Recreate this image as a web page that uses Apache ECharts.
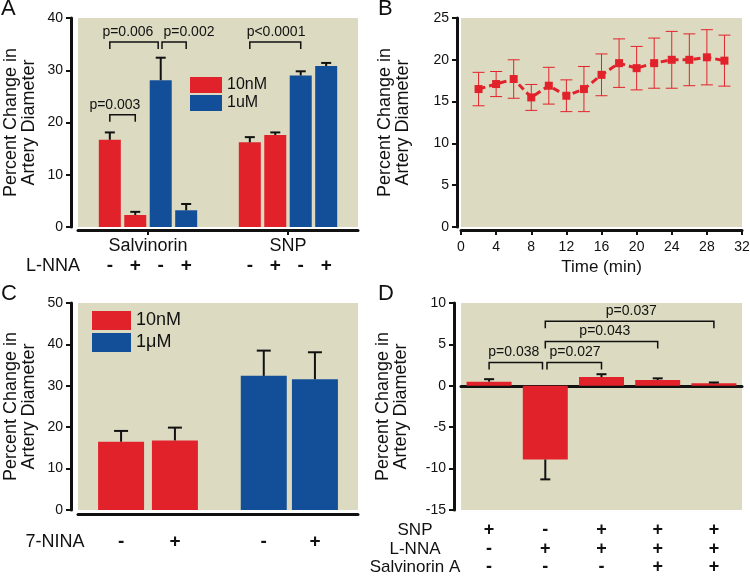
<!DOCTYPE html>
<html>
<head>
<meta charset="utf-8">
<script src="https://cdn.jsdelivr.net/npm/echarts@6/dist/echarts.min.js"></script>
<style>html,body{margin:0;background:#fff}#main{width:750px;height:577px}</style>
</head>
<body>
<div id="main"></div>
<script>
// A: bars at x positions, two groups
var aPos = [1, 2, 3, 4, 6.5, 7.5, 8.5, 9.5];
var aMean = [16.7, 2.3, 28.1, 3.2, 16.2, 17.6, 29.0, 30.8];
var aErr = [1.4, 0.6, 4.3, 1.2, 1.0, 0.5, 0.8, 0.6];
var aDose = ['10nM', '10nM', '1uM', '1uM', '10nM', '10nM', '1uM', '1uM'];
var aSigns = ['-', '+', '-', '+', '-', '+', '-', '+'];
var aGroups = ['Salvinorin', 'SNP'];
var aGroupPos = [2.5, 8];
// [from, to, y, labelX]
var aBrackets = [[1, 2, 21.5, 1.2], [1, 2.9, 35.4, 1.71], [3.05, 4, 35.4, 4.11], [6.5, 8.5, 35.4, 7.53]];
var aBracketText = ['p=0.003', 'p=0.006', 'p=0.002', 'p<0.0001'];

// B: time course
var bTime = [2, 4, 6, 8, 10, 12, 14, 16, 18, 20, 22, 24, 26, 28, 30];
var bMean = [16.5, 17.1, 17.7, 15.5, 16.9, 15.7, 16.5, 18.2, 19.6, 19.0, 19.6, 20.0, 20.0, 20.3, 19.9];
var bErr = [2.0, 1.5, 2.3, 1.55, 2.2, 1.9, 2.7, 2.5, 2.9, 2.6, 3.0, 3.4, 3.1, 3.3, 3.05];

// C
var cPos = [1, 2, 3.65, 4.6];
var cMean = [16.5, 16.8, 32.4, 31.6];
var cErr = [2.6, 3.1, 6.1, 6.5];
var cDose = ['10nM', '10nM', '1μM', '1μM'];
var cSigns = ['-', '+', '-', '+'];

// D
var dPos = [0, 1, 2, 3, 4];
var dMean = [0.5, -8.9, 1.05, 0.7, 0.3];
var dErr = [0.3, 2.4, 0.35, 0.2, 0.1];
var dSNP = ['+', '-', '+', '+', '+'];
var dLNNA = ['-', '+', '+', '+', '+'];
var dSalA = ['-', '-', '-', '+', '+'];
var dBrackets = [[0, 0.95, 2.8, 0.44], [1.03, 2, 2.8, 1.53], [1, 3, 5.36, 2.06], [1, 4, 7.8, 2.53]];
var dBracketText = ['p=0.038', 'p=0.027', 'p=0.043', 'p=0.037'];

var ff = 'Liberation Sans, Arial, Helvetica, sans-serif';
var ink = '#111';
var red = '#e2222b';
var blue = '#134e98';
var bg = '#dcdbc1';
var yTitle = 'Percent Change in\nArtery Diameter';

function pick(pos, vals, dose, want) {
  var out = [];
  for (var i = 0; i < pos.length; i++) {
    if (!dose || dose[i] === want) out.push([pos[i], vals[i]]);
  }
  return out;
}
function rows(pos, m, e) {
  return pos.map(function (p, i) { return [p, m[i], e[i]]; });
}

function yAx(grid, min, max, step, off, gap) {
  return {
    type: 'value', gridIndex: grid, min: min, max: max, interval: step, offset: off, position: 'left',
    axisLine: {show: true, onZero: false, lineStyle: {color: ink, width: 3}},
    axisTick: {show: true, length: 5, lineStyle: {color: ink, width: 2}},
    axisLabel: {fontSize: 14, color: ink, fontFamily: ff, margin: 8},
    splitLine: {show: false},
    name: yTitle, nameLocation: 'middle', nameRotate: 90, nameGap: gap,
    nameTextStyle: {fontSize: 18, lineHeight: 18, color: ink, fontFamily: ff}
  };
}

// row of +/- labels under the bars, with its row name on the left
function signAx(grid, min, max, pos, signs, off, name, gap, fs) {
  return {
    type: 'value', gridIndex: grid, min: min, max: max, position: 'bottom', offset: off,
    axisLine: {show: false, onZero: false}, axisTick: {show: false}, splitLine: {show: false},
    axisLabel: {
      customValues: pos, margin: 0, verticalAlign: 'middle', fontSize: fs + 1, fontWeight: 'bold',
      color: ink, fontFamily: ff,
      formatter: function (v) { return signs[pos.indexOf(v)]; }
    },
    name: name, nameLocation: 'start', nameGap: gap,
    nameTextStyle: {align: 'center', verticalAlign: 'middle', fontSize: fs, color: ink, fontFamily: ff}
  };
}

function errUp(cap, color, w) {
  return function (params, api) {
    var x = api.value(0), m = api.value(1), e = api.value(2);
    var p0 = api.coord([x, m]);
    var p1 = api.coord([x, m >= 0 ? m + e : m - e]);
    var st = {stroke: color, lineWidth: w};
    return {type: 'group', children: [
      {type: 'line', shape: {x1: p0[0], y1: p0[1], x2: p1[0], y2: p1[1]}, style: st},
      {type: 'line', shape: {x1: p1[0] - cap / 2, y1: p1[1], x2: p1[0] + cap / 2, y2: p1[1]}, style: st}
    ]};
  };
}

function errBoth(cap, color, w) {
  return function (params, api) {
    var x = api.value(0), m = api.value(1), e = api.value(2);
    var hi = api.coord([x, m + e]), lo = api.coord([x, m - e]);
    var st = {stroke: color, lineWidth: w};
    return {type: 'group', children: [
      {type: 'line', shape: {x1: hi[0], y1: hi[1], x2: lo[0], y2: lo[1]}, style: st},
      {type: 'line', shape: {x1: hi[0] - cap / 2, y1: hi[1], x2: hi[0] + cap / 2, y2: hi[1]}, style: st},
      {type: 'line', shape: {x1: lo[0] - cap / 2, y1: lo[1], x2: lo[0] + cap / 2, y2: lo[1]}, style: st}
    ]};
  };
}

function bracket(texts, tip) {
  return function (params, api) {
    var y = api.value(2);
    var a = api.coord([api.value(0), y]);
    var b = api.coord([api.value(1), y]);
    var t = api.coord([api.value(3), y]);
    return {type: 'group', children: [
      {type: 'polyline', shape: {points: [[a[0], a[1] + tip], [a[0], a[1]], [b[0], b[1]], [b[0], b[1] + tip]]},
        style: {stroke: ink, lineWidth: 1.5, fill: null}},
      {type: 'text', x: t[0], y: a[1] - 3,
        style: {text: texts[params.dataIndex], fontSize: 14, fontFamily: ff, fill: ink, align: 'center', verticalAlign: 'bottom'}}
    ]};
  };
}

var gridBase = {show: true, backgroundColor: bg, borderWidth: 0, containLabel: false, outerBoundsMode: 'none'};
function grid(l, t, w, h) {
  return Object.assign({left: l, top: t, width: w, height: h}, gridBase);
}

var titleStyle = {fontSize: 22, fontWeight: 'normal', color: ink, fontFamily: ff};

var myChart = echarts.init(document.getElementById('main'));
var option = {
  animation: false,
  title: [
    {text: 'A', left: 1, top: -2, padding: 0, textStyle: titleStyle},
    {text: 'B', left: 378, top: -2, padding: 0, textStyle: titleStyle},
    {text: 'C', left: 1, top: 283, padding: 0, textStyle: titleStyle},
    {text: 'D', left: 378, top: 283, padding: 0, textStyle: titleStyle}
  ],
  legend: [
    {left: 190, top: 77, orient: 'vertical', icon: 'rect', itemWidth: 32, itemHeight: 16, itemGap: 2, padding: 0,
      selectedMode: false, data: ['10nM', '1uM'], textStyle: {fontSize: 16, color: ink, fontFamily: ff}},
    {left: 92, top: 311, orient: 'vertical', icon: 'rect', itemWidth: 39, itemHeight: 19, itemGap: 3, padding: 0,
      selectedMode: false, data: ['10nM', '1μM'], textStyle: {fontSize: 18, color: ink, fontFamily: ff}}
  ],
  grid: [grid(78, 18, 280, 209), grid(461, 18, 281, 209), grid(78, 303, 280, 207), grid(461, 303, 281, 207)],
  xAxis: [
    {
      type: 'value', gridIndex: 0, min: -0.25, max: 10.75, position: 'bottom', offset: 3,
      axisLine: {show: true, onZero: false, lineStyle: {color: ink, width: 3}},
      axisTick: {show: true, customValues: aGroupPos, length: 5, lineStyle: {color: ink, width: 2}},
      axisLabel: {customValues: aGroupPos, margin: 7, fontSize: 18, color: ink, fontFamily: ff,
        formatter: function (v) { return aGroups[aGroupPos.indexOf(v)]; }},
      splitLine: {show: false}
    },
    signAx(0, -0.25, 10.75, aPos, aSigns, 39, 'L-NNA', 25, 18),
    {
      type: 'value', gridIndex: 1, min: 0, max: 32, interval: 4, position: 'bottom', offset: 3,
      axisLine: {show: true, onZero: false, lineStyle: {color: ink, width: 3}},
      axisTick: {show: true, length: 5, lineStyle: {color: ink, width: 2}},
      axisLabel: {margin: 10, fontSize: 14, color: ink, fontFamily: ff},
      splitLine: {show: false},
      name: 'Time (min)', nameLocation: 'middle', nameGap: 29,
      nameTextStyle: {fontSize: 17, color: ink, fontFamily: ff}
    },
    {
      type: 'value', gridIndex: 2, min: 0.2, max: 5.4, position: 'bottom', offset: 4,
      axisLine: {show: true, onZero: false, lineStyle: {color: ink, width: 3}},
      axisTick: {show: false}, axisLabel: {show: false}, splitLine: {show: false}
    },
    signAx(2, 0.2, 5.4, cPos, cSigns, 32, '7-NINA', 23, 18),
    {
      type: 'value', gridIndex: 3, min: -0.5, max: 4.5,
      axisLine: {show: true, onZero: true, lineStyle: {color: ink, width: 3}},
      axisTick: {show: false}, axisLabel: {show: false}, splitLine: {show: false}
    },
    signAx(3, -0.5, 4.5, dPos, dSNP, 20, 'SNP', 46, 17),
    signAx(3, -0.5, 4.5, dPos, dLNNA, 39, 'L-NNA', 46, 17),
    signAx(3, -0.5, 4.5, dPos, dSalA, 57, 'Salvinorin A', 46, 17)
  ],
  yAxis: [
    yAx(0, 0, 40, 10, 7, 33),
    yAx(1, 0, 25, 5, 4, 45),
    yAx(2, 0, 50, 10, 7, 33),
    yAx(3, -15, 10, 5, 7, 44)
  ],
  series: [
    {name: '10nM', type: 'bar', xAxisIndex: 0, yAxisIndex: 0, barWidth: 22, barGap: '-100%',
      itemStyle: {color: red}, data: pick(aPos, aMean, aDose, '10nM')},
    {name: '1uM', type: 'bar', xAxisIndex: 0, yAxisIndex: 0, barWidth: 22, barGap: '-100%',
      itemStyle: {color: blue}, data: pick(aPos, aMean, aDose, '1uM')},
    {type: 'custom', xAxisIndex: 0, yAxisIndex: 0, renderItem: errUp(10, ink, 2), data: rows(aPos, aMean, aErr), z: 3},
    {type: 'custom', xAxisIndex: 0, yAxisIndex: 0, renderItem: bracket(aBracketText, 7),
      data: aBrackets, z: 3},

    {type: 'custom', xAxisIndex: 2, yAxisIndex: 1, renderItem: errBoth(12, red, 1), data: rows(bTime, bMean, bErr), z: 2},
    {type: 'line', xAxisIndex: 2, yAxisIndex: 1, symbol: 'rect', symbolSize: 8,
      lineStyle: {color: red, width: 3, type: [7, 4]}, itemStyle: {color: red}, data: pick(bTime, bMean), z: 3},

    {name: '10nM', type: 'bar', xAxisIndex: 3, yAxisIndex: 2, barWidth: 46, barGap: '-100%',
      itemStyle: {color: red}, data: pick(cPos, cMean, cDose, '10nM')},
    {name: '1μM', type: 'bar', xAxisIndex: 3, yAxisIndex: 2, barWidth: 46, barGap: '-100%',
      itemStyle: {color: blue}, data: pick(cPos, cMean, cDose, '1μM')},
    {type: 'custom', xAxisIndex: 3, yAxisIndex: 2, renderItem: errUp(14, ink, 2), data: rows(cPos, cMean, cErr), z: 3},

    {type: 'bar', xAxisIndex: 5, yAxisIndex: 3, barWidth: 45, itemStyle: {color: red}, data: pick(dPos, dMean)},
    {type: 'custom', xAxisIndex: 5, yAxisIndex: 3, renderItem: errUp(10, ink, 2), data: rows(dPos, dMean, dErr), z: 3},
    {type: 'custom', xAxisIndex: 5, yAxisIndex: 3, renderItem: bracket(dBracketText, 7),
      data: dBrackets, z: 3}
  ]
};
myChart.setOption(option);
</script>
</body>
</html>
